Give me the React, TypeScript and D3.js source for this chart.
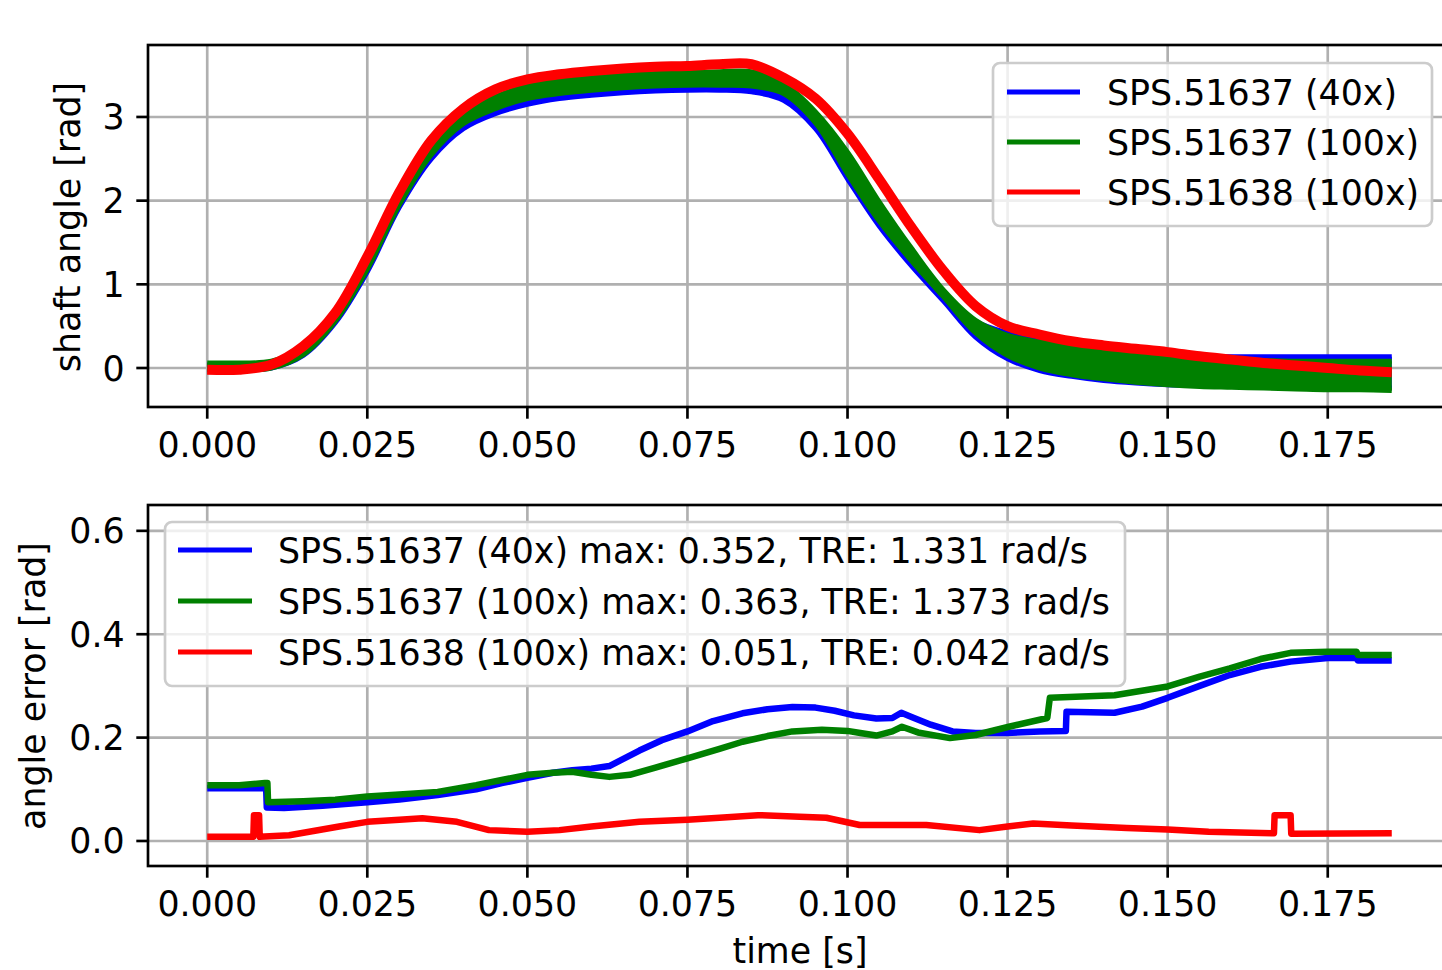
import React from 'react';
import * as d3 from 'd3';

// time grid for the shaft angle traces [s]
const T = [0, 0.005, 0.01, 0.015, 0.02, 0.025, 0.03, 0.035, 0.04, 0.045, 0.05, 0.055, 0.06, 0.065, 0.07,
  0.075, 0.08, 0.085, 0.09, 0.095, 0.1, 0.105, 0.11, 0.115, 0.12, 0.125, 0.13, 0.135, 0.14, 0.145,
  0.15, 0.155, 0.16, 0.165, 0.17, 0.175, 0.18, 0.185];

// shaft angle [rad]; 40x and 100x runs of 51637 overlap into bands (hi / lo envelope)
const blueHi = [0.04, 0.04, 0.06, 0.2, 0.6, 1.24, 1.98, 2.58, 2.96, 3.16, 3.26, 3.31, 3.34, 3.36, 3.37,
  3.37, 3.37, 3.36, 3.28, 2.98, 2.48, 1.9, 1.36, 0.9, 0.56, 0.42, 0.34, 0.29, 0.24, 0.19,
  0.15, 0.135, 0.135, 0.135, 0.135, 0.135, 0.135, 0.135];
const blueLo = [-0.02, -0.02, 0.0, 0.15, 0.54, 1.15, 1.92, 2.5, 2.86, 3.04, 3.15, 3.22, 3.26, 3.29, 3.31,
  3.32, 3.32, 3.3, 3.2, 2.86, 2.26, 1.69, 1.22, 0.8, 0.37, 0.11, -0.03, -0.1, -0.15, -0.18,
  -0.2, -0.21, -0.22, -0.23, -0.23, -0.24, -0.24, -0.24];
const greenHi = [0.06, 0.06, 0.08, 0.24, 0.64, 1.28, 2.02, 2.63, 3.02, 3.24, 3.37, 3.43, 3.47, 3.5, 3.52,
  3.53, 3.54, 3.54, 3.4, 3.06, 2.58, 1.98, 1.43, 0.93, 0.57, 0.39, 0.31, 0.26, 0.22, 0.18,
  0.14, 0.12, 0.1, 0.09, 0.08, 0.08, 0.08, 0.08];
const greenLo = [-0.02, -0.02, 0.0, 0.16, 0.56, 1.18, 1.95, 2.55, 2.92, 3.1, 3.22, 3.28, 3.32, 3.35, 3.37,
  3.38, 3.38, 3.37, 3.28, 2.93, 2.32, 1.75, 1.28, 0.85, 0.42, 0.15, 0.0, -0.08, -0.13, -0.17,
  -0.2, -0.22, -0.23, -0.24, -0.25, -0.26, -0.26, -0.27];
const redAngle = [-0.02, -0.02, 0.04, 0.26, 0.66, 1.33, 2.1, 2.72, 3.1, 3.33, 3.45, 3.51, 3.55, 3.58, 3.6,
  3.61, 3.63, 3.63, 3.47, 3.22, 2.8, 2.25, 1.68, 1.16, 0.74, 0.5, 0.4, 0.32, 0.27, 0.23,
  0.19, 0.14, 0.1, 0.06, 0.03, 0.0, -0.03, -0.05];

// angle error [rad] as [time, value]
const blueErr: [number, number][] = [[0, 0.102], [0.0092, 0.102], [0.0093, 0.065], [0.012, 0.064], [0.018, 0.068],
  [0.025, 0.075], [0.03, 0.08], [0.036, 0.089], [0.042, 0.1], [0.046, 0.112], [0.05, 0.122], [0.054, 0.132],
  [0.057, 0.137], [0.06, 0.14], [0.0628, 0.145], [0.0675, 0.175], [0.071, 0.195], [0.075, 0.212], [0.079, 0.232],
  [0.0836, 0.247], [0.0875, 0.255], [0.0914, 0.259], [0.095, 0.258], [0.098, 0.252], [0.101, 0.243],
  [0.1045, 0.237], [0.107, 0.238], [0.1084, 0.248], [0.11, 0.24], [0.113, 0.225], [0.1164, 0.212],
  [0.12, 0.209], [0.1248, 0.209], [0.13, 0.212], [0.1341, 0.213], [0.1342, 0.25], [0.1417, 0.248],
  [0.146, 0.26], [0.15, 0.277], [0.155, 0.3], [0.1597, 0.321], [0.1645, 0.337], [0.1692, 0.347],
  [0.175, 0.354], [0.1795, 0.354], [0.1797, 0.349], [0.185, 0.349]];
const greenErr: [number, number][] = [[0, 0.108], [0.005, 0.108], [0.009, 0.112], [0.0094, 0.112], [0.0095, 0.075],
  [0.015, 0.077], [0.02, 0.08], [0.025, 0.086], [0.03, 0.09], [0.036, 0.095], [0.042, 0.108], [0.046, 0.118],
  [0.05, 0.128], [0.054, 0.132], [0.057, 0.134], [0.06, 0.128], [0.0628, 0.124], [0.066, 0.128], [0.07, 0.142],
  [0.075, 0.16], [0.08, 0.178], [0.0836, 0.192], [0.0875, 0.203], [0.0914, 0.212], [0.096, 0.215],
  [0.1, 0.213], [0.102, 0.209], [0.1045, 0.204], [0.107, 0.212], [0.1085, 0.221], [0.111, 0.21],
  [0.116, 0.199], [0.12, 0.205], [0.1252, 0.221], [0.1312, 0.238], [0.1316, 0.277], [0.1417, 0.282],
  [0.15, 0.299], [0.155, 0.318], [0.1597, 0.334], [0.1645, 0.352], [0.1692, 0.364], [0.175, 0.366],
  [0.1795, 0.366], [0.1797, 0.36], [0.185, 0.36]];
const redErr: [number, number][] = [[0, 0.008], [0.0072, 0.008], [0.0073, 0.05], [0.0081, 0.05], [0.0082, 0.008],
  [0.0128, 0.011], [0.0206, 0.028], [0.025, 0.037], [0.03, 0.041], [0.0336, 0.044], [0.039, 0.037],
  [0.044, 0.021], [0.05, 0.018], [0.055, 0.021], [0.06, 0.028], [0.0675, 0.037], [0.075, 0.041],
  [0.08, 0.045], [0.086, 0.05], [0.0925, 0.047], [0.0967, 0.045], [0.1019, 0.031], [0.1053, 0.031],
  [0.1123, 0.031], [0.1206, 0.021], [0.125, 0.028], [0.129, 0.034], [0.135, 0.03], [0.1436, 0.025],
  [0.15, 0.022], [0.1564, 0.018], [0.1666, 0.015], [0.1667, 0.05], [0.1692, 0.05], [0.1693, 0.014],
  [0.185, 0.015]];

const xTicks = [0, 0.025, 0.05, 0.075, 0.1, 0.125, 0.15, 0.175];
const yTicksTop = [0, 1, 2, 3];
const yTicksBottom = [0, 0.2, 0.4, 0.6];

const topLegend = ['SPS.51637 (40x)', 'SPS.51637 (100x)', 'SPS.51638 (100x)'];
const bottomLegend = [
  'SPS.51637 (40x) max: 0.352, TRE: 1.331 rad/s',
  'SPS.51637 (100x) max: 0.363, TRE: 1.373 rad/s',
  'SPS.51638 (100x) max: 0.051, TRE: 0.042 rad/s',
];
const colors = ['#0000ff', '#008000', '#ff0000'];

const W = 1442;
const H = 970;
const FONT = 'DejaVu Sans, sans-serif';
const FS = 34.8;
const LW = 2.67; // 0.8pt at this dpi
const TICK = 11.7;
const PAD = 11.7;

const left = 148;
const right = 1451;
const top1 = 45, bot1 = 407;
const top2 = 505, bot2 = 866;

const x = d3.scaleLinear().domain([-0.00925, 0.19425]).range([left, right]);
const yTop = d3.scaleLinear().domain([-0.466, 3.86]).range([bot1, top1]);
const yBot = d3.scaleLinear().domain([-0.0484, 0.65]).range([bot2, top2]);

function Axes({ y, top, bottom, yTicks, fmt, clip, children }: any) {
  return (
    <g>
      <g clipPath={`url(#${clip})`}>
        {xTicks.map((t) => (
          <line key={'gx' + t} x1={x(t)} x2={x(t)} y1={top} y2={bottom} stroke="#b0b0b0" strokeWidth={LW} />
        ))}
        {yTicks.map((v: number) => (
          <line key={'gy' + v} x1={left} x2={right} y1={y(v)} y2={y(v)} stroke="#b0b0b0" strokeWidth={LW} />
        ))}
        {children}
      </g>
      <rect x={left} y={top} width={right - left} height={bottom - top} fill="none" stroke="#000" strokeWidth={LW} />
      {xTicks.map((t) => (
        <g key={'tx' + t}>
          <line x1={x(t)} x2={x(t)} y1={bottom} y2={bottom + TICK} stroke="#000" strokeWidth={LW} />
          <text x={x(t)} y={bottom + TICK + PAD + 27} textAnchor="middle" fontSize={FS} fontFamily={FONT}>
            {t.toFixed(3)}
          </text>
        </g>
      ))}
      {yTicks.map((v: number) => (
        <g key={'ty' + v}>
          <line x1={left - TICK} x2={left} y1={y(v)} y2={y(v)} stroke="#000" strokeWidth={LW} />
          <text x={left - TICK - PAD} y={y(v) + 12.5} textAnchor="end" fontSize={FS} fontFamily={FONT}>
            {fmt(v)}
          </text>
        </g>
      ))}
    </g>
  );
}

function Legend({ lx, ly, w, h, rows, labels, handle }: any) {
  return (
    <g>
      <rect x={lx} y={ly} width={w} height={h} rx={7} ry={7} fill="#fff" fillOpacity={0.8}
        stroke="#cccccc" strokeWidth={LW} />
      {labels.map((s: string, i: number) => (
        <g key={s}>
          <line x1={handle[0]} x2={handle[1]} y1={rows[i]} y2={rows[i]} stroke={colors[i]} strokeWidth={5} />
          <text x={handle[2]} y={rows[i] + 12.5} fontSize={FS} fontFamily={FONT}>{s}</text>
        </g>
      ))}
    </g>
  );
}

export default function App() {
  const curve = d3.curveCatmullRom.alpha(0.5);
  const band = (hi: number[], lo: number[]) =>
    d3.area<number>().x((_, i) => x(T[i])).y0((_, i) => yTop(lo[i])).y1((d) => yTop(d)).curve(curve)(hi) || '';
  const edge = (vals: number[]) =>
    d3.line<number>().x((_, i) => x(T[i])).y((d) => yTop(d)).curve(curve)(vals) || '';
  const errLine = d3.line<[number, number]>().x((d) => x(d[0])).y((d) => yBot(d[1]));

  const bands = [
    { hi: blueHi, lo: blueLo, c: colors[0] },
    { hi: greenHi, lo: greenLo, c: colors[1] },
  ];
  const errs = [blueErr, greenErr, redErr];

  return (
    <div style={{ position: 'absolute', left: 0, top: 0 }}>
      <svg width={W} height={H} style={{ display: 'block', background: '#fff' }}>
        <defs>
          <clipPath id="c1"><rect x={left} y={top1} width={right - left} height={bot1 - top1} /></clipPath>
          <clipPath id="c2"><rect x={left} y={top2} width={right - left} height={bot2 - top2} /></clipPath>
        </defs>

        <Axes y={yTop} top={top1} bottom={bot1} yTicks={yTicksTop} fmt={(v: number) => String(v)} clip="c1">
          {bands.map((b) => (
            <g key={b.c}>
              <path d={band(b.hi, b.lo)} fill={b.c} />
              <path d={edge(b.hi)} fill="none" stroke={b.c} strokeWidth={5} />
              <path d={edge(b.lo)} fill="none" stroke={b.c} strokeWidth={5} />
            </g>
          ))}
          <path d={edge(redAngle)} fill="none" stroke={colors[2]} strokeWidth={10} strokeLinejoin="round" />
        </Axes>

        <Axes y={yBot} top={top2} bottom={bot2} yTicks={yTicksBottom} fmt={(v: number) => v.toFixed(1)} clip="c2">
          {errs.map((e, i) => (
            <path key={i} d={errLine(e) || ''} fill="none" stroke={colors[i]} strokeWidth={6.5}
              strokeLinejoin="round" />
          ))}
        </Axes>

        <Legend lx={993} ly={63} w={439} h={163} rows={[92, 142, 192]} labels={topLegend}
          handle={[1007, 1080, 1107]} />
        <Legend lx={165} ly={522} w={960} h={164} rows={[550, 601, 652]} labels={bottomLegend}
          handle={[178, 252, 278]} />

        <text transform="translate(80,227) rotate(-90)" textAnchor="middle" fontSize={FS} fontFamily={FONT}>
          shaft angle [rad]
        </text>
        <text transform="translate(45,686) rotate(-90)" textAnchor="middle" fontSize={FS} fontFamily={FONT}>
          angle error [rad]
        </text>
        <text x={800} y={963} textAnchor="middle" fontSize={FS} fontFamily={FONT}>time [s]</text>
      </svg>
    </div>
  );
}
